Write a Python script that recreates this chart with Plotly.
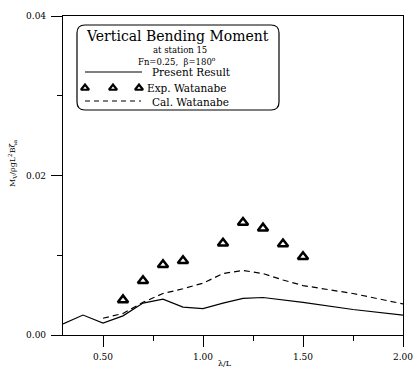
import plotly.graph_objects as go

# ---- data ----
lam_present = [0.3, 0.4, 0.5, 0.6, 0.7, 0.8, 0.9, 1.0, 1.1, 1.2, 1.3, 1.4, 1.5, 1.75, 2.0]
present = [0.0014, 0.0025, 0.0015, 0.0024, 0.0040, 0.0045, 0.0035, 0.0033, 0.0040,
           0.0046, 0.0047, 0.0044, 0.0041, 0.0032, 0.0025]

lam_cal = [0.5, 0.6, 0.7, 0.8, 0.9, 1.0, 1.1, 1.2, 1.3, 1.4, 1.5, 1.75, 2.0]
cal = [0.0021, 0.0027, 0.0041, 0.0052, 0.0058, 0.0065, 0.0077, 0.0081, 0.0077,
       0.0069, 0.0062, 0.0052, 0.0039]

lam_exp = [0.6, 0.7, 0.8, 0.9, 1.1, 1.2, 1.3, 1.4, 1.5]
exp_vals = [0.0044, 0.0068, 0.0088, 0.0093, 0.0115, 0.0141, 0.0134, 0.0114, 0.0098]

x_ticks = [0.5, 1.0, 1.5, 2.0]
x_ticktext = ["0.50", "1.00", "1.50", "2.00"]
y_ticks = [0.0, 0.02, 0.04]
y_ticktext = ["0.00", "0.02", "0.04"]

FONT = "DejaVu Serif"
W, H = 413, 367
ML, MR, MT, MB = 63, 10, 16, 32
PW, PH = W - ML - MR, H - MT - MB


def fx(px):
    return (px - ML) / PW


def fy(py):
    return (H - MB - py) / PH


fig = go.Figure()
fig.add_trace(go.Scatter(x=lam_present, y=present, mode="lines",
                         line=dict(color="black", width=1.2), showlegend=False))
fig.add_trace(go.Scatter(x=lam_cal, y=cal, mode="lines",
                         line=dict(color="black", width=1.2, dash="6px,4px"), showlegend=False))
fig.add_trace(go.Scatter(x=lam_exp, y=exp_vals, mode="markers",
                         marker=dict(symbol="triangle-up-open", size=9, color="black",
                                     line=dict(color="black", width=2.5)),
                         showlegend=False))

# ---- legend samples on an overlay axis (fractions of the plot area) ----
fig.add_trace(go.Scatter(x=[fx(85), fx(142)], y=[fy(72), fy(72)], mode="lines",
                         line=dict(color="black", width=1.1), xaxis="x2", yaxis="y2",
                         showlegend=False, hoverinfo="skip"))
fig.add_trace(go.Scatter(x=[fx(85), fx(113), fx(139)], y=[fy(88)] * 3, mode="markers",
                         marker=dict(symbol="triangle-up-open", size=7, color="black",
                                     line=dict(color="black", width=2.2)),
                         xaxis="x2", yaxis="y2", showlegend=False, hoverinfo="skip"))
fig.add_trace(go.Scatter(x=[fx(85), fx(141)], y=[fy(101), fy(101)], mode="lines",
                         line=dict(color="black", width=1.1, dash="5px,4px"),
                         xaxis="x2", yaxis="y2", showlegend=False, hoverinfo="skip"))

# rounded legend box
x0, x1, y0, y1 = fx(77), fx(279), fy(110), fy(25)
rx, ry = 8 / PW, 8 / PH
path = (f"M {x0+rx},{y1} L {x1-rx},{y1} Q {x1},{y1} {x1},{y1-ry} "
        f"L {x1},{y0+ry} Q {x1},{y0} {x1-rx},{y0} L {x0+rx},{y0} "
        f"Q {x0},{y0} {x0},{y0+ry} L {x0},{y1-ry} Q {x0},{y1} {x0+rx},{y1} Z")
fig.add_shape(type="path", path=path, xref="paper", yref="paper",
              line=dict(color="black", width=1.2), fillcolor="rgba(0,0,0,0)")

ann = [
    dict(text="Vertical Bending Moment", x=fx(177), y=fy(36), size=14, xanchor="center"),
    dict(text="at station 15", x=fx(180), y=fy(49.5), size=8.5, xanchor="center"),
    dict(text="Fn=0.25,  β=180<sup>o</sup>", x=fx(177), y=fy(60.5), size=8.5, xanchor="center"),
    dict(text="Present Result", x=fx(150), y=fy(72), size=10.5, xanchor="left"),
    dict(text="Exp. Watanabe", x=fx(145), y=fy(87.5), size=10.5, xanchor="left"),
    dict(text="Cal. Watanabe", x=fx(150), y=fy(101.5), size=10.5, xanchor="left"),
]
for a in ann:
    fig.add_annotation(text=a["text"], x=a["x"], y=a["y"], xref="paper", yref="paper",
                       xanchor=a["xanchor"], yanchor="middle", showarrow=False,
                       font=dict(family=FONT, size=a["size"], color="black"))

# axis titles
fig.add_annotation(text="M<sub>V</sub>/ρgL<sup>2</sup>Bζ<sub>a</sub>", x=fx(12), y=fy(163),
                   xref="paper", yref="paper", textangle=-90, showarrow=False,
                   xanchor="center", yanchor="middle",
                   font=dict(family=FONT, size=8, color="black"))
fig.add_annotation(text="λ/L", x=fx(225), y=fy(363), xref="paper", yref="paper",
                   showarrow=False, xanchor="center", yanchor="middle",
                   font=dict(family=FONT, size=8, color="black"))

axis_common = dict(showline=True, linecolor="black", linewidth=1.2, mirror=True,
                   showgrid=False, zeroline=False, ticks="outside", tickcolor="black",
                   tickwidth=1.2, ticklen=11, automargin=False, ticklabeloverflow="allow",
                   tickfont=dict(family=FONT, size=9, color="black"))

fig.update_layout(
    width=W, height=H,
    margin=dict(l=ML, r=MR, t=MT, b=MB, autoexpand=False),
    paper_bgcolor="white", plot_bgcolor="white",
    showlegend=False,
    xaxis=dict(range=[0.3, 2.0], tickvals=x_ticks, ticktext=x_ticktext,
               ticklabelstandoff=2,
               minor=dict(tickvals=[0.75, 1.25, 1.75], ticks="outside", ticklen=5,
                          tickcolor="black", tickwidth=1.2),
               **axis_common),
    yaxis=dict(range=[0, 0.04], tickvals=y_ticks, ticktext=y_ticktext,
               ticklabelstandoff=3,
               minor=dict(tickvals=[0.01, 0.03], ticks="outside", ticklen=5,
                          tickcolor="black", tickwidth=1.2),
               **axis_common),
    xaxis2=dict(range=[0, 1], overlaying="x", visible=False, fixedrange=True),
    yaxis2=dict(range=[0, 1], overlaying="y", visible=False, fixedrange=True),
)

fig.write_html("out.html")
